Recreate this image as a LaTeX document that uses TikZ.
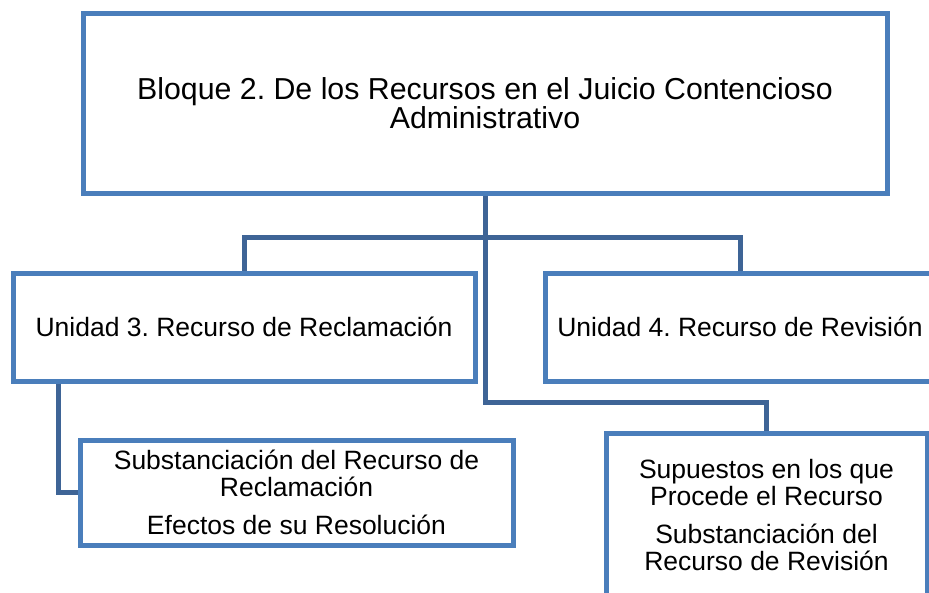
\documentclass[tikz,border=0pt]{standalone}
\usepackage{fontspec}
\setmainfont{Liberation Sans}
\usetikzlibrary{calc}
\frenchspacing
\definecolor{boxblue}{RGB}{74,126,187}
\definecolor{lineblue}{RGB}{62,100,150}
\tikzset{
  unitbox/.style={draw=boxblue, line width=5pt, fill=white, inner sep=0pt, align=center, font=\fontsize{26.5}{27}\selectfont},
  link/.style={draw=lineblue, line width=5pt}
}
\begin{document}
\begin{tikzpicture}[x=1pt,y=-1pt]
\clip (0,0) rectangle (929,592);
\node[unitbox, minimum width=804pt, minimum height=180pt, font=\fontsize{30.3}{27}\selectfont] (bloque) at (485,103) {Bloque 2. De los Recursos en el Juicio Contencioso\\Administrativo};
\node[unitbox, minimum width=462pt, minimum height=108pt] (u3) at (244,327) {Unidad 3. Recurso de Reclamación};
\node[unitbox, minimum width=390pt, minimum height=108pt] (u4) at (740,327) {Unidad 4. Recurso de Revisión};
\node[unitbox, minimum width=433pt, minimum height=105pt] (s3) at (296.5,492.5) {Substanciación del Recurso de\\Reclamación\\[11pt]Efectos de su Resolución};
\node[unitbox, minimum width=321pt, minimum height=165pt] (s4) at (766.5,515.5) {Supuestos en los que\\Procede el Recurso\\[11pt]Substanciación del\\Recurso de Revisión};
\draw[link] (bloque.south) -- ++(0,207) -| (s4.north);
\draw[link] (u3.north) -- ++(0,-33) -| (u4.north);
\draw[link] ($(u3.south west)+(48,0)$) |- (s3.west);
\end{tikzpicture}
\end{document}
